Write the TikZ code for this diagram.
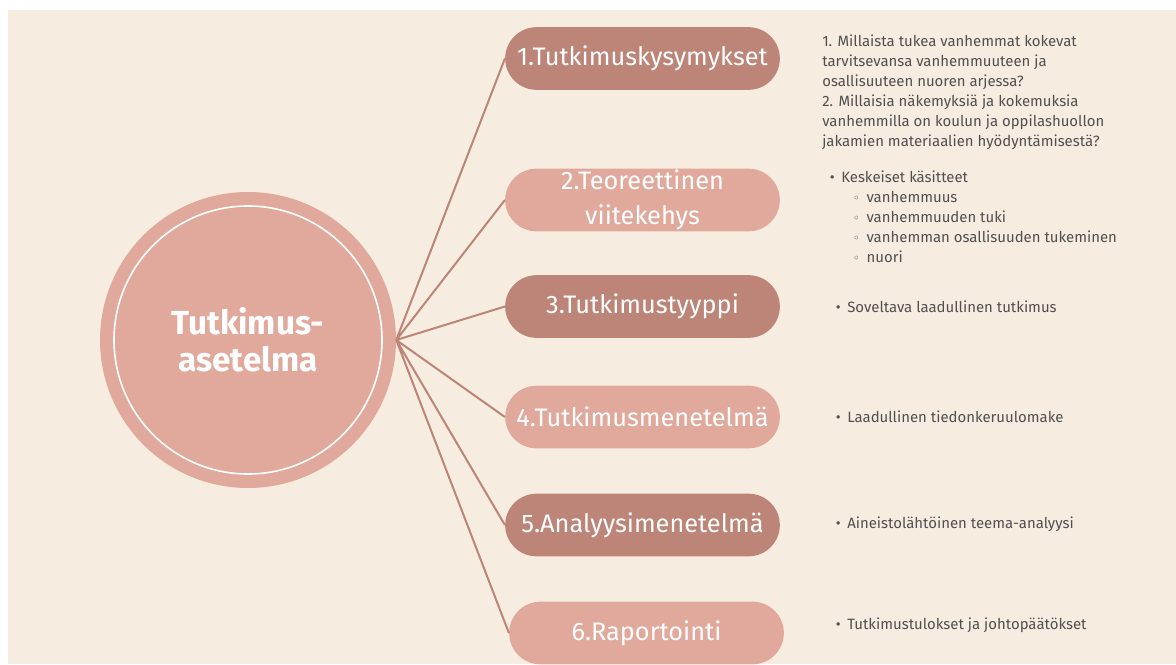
\documentclass[tikz,border=0pt]{standalone}
\usepackage{fontspec}
\setmainfont{Fira Sans}
\newfontfamily\symfont{DejaVu Sans}
\usetikzlibrary{positioning,shapes.misc}

\definecolor{kerma}{HTML}{F7ECE0}
\definecolor{rosa}{HTML}{E1A99C}
\definecolor{ruskea}{HTML}{BC8577}
\definecolor{harmaa}{HTML}{505050}

\tikzset{
  vaihe/.style={rounded rectangle, minimum width=206pt, minimum height=47pt, inner sep=0pt,
    text=white, align=center, font=\fontsize{19}{26}\selectfont},
  tumma/.style={vaihe, fill=ruskea},
  vaalea/.style={vaihe, fill=rosa},
  haara/.style={draw=ruskea, line width=1.5pt},
  selite/.style={inner sep=0pt, text=harmaa, align=left, font=\fontsize{11.2}{15}\selectfont}
}

\begin{document}
\begin{tikzpicture}[x=0.75pt,y=-0.75pt]
		\useasboundingbox (0,0) rectangle (1176,664);
		\fill[white] (0,0) rectangle (1176,664);
		\fill[kerma] (8,10) rectangle (1176,664);

		% keskus
		\node at (248,340) [circle, fill=rosa, minimum size=222pt, text=white, align=center, font=\fontsize{25}{28}\selectfont\bfseries] (K) {Tutkimus-\\asetelma};
		\node at (K) [circle, draw=white, line width=1.2pt, minimum size=201pt] (Kr) {};

		% vaiheet
		\node at (642.5,58.5) [tumma] (V1) {1.Tutkimuskysymykset};
		\node at (642.5,200) [vaalea] (V2) {2.Teoreettinen\\viitekehys};
		\node at (642.5,306.5) [tumma] (V3) {3.Tutkimustyyppi};
		\node at (642.5,417) [vaalea] (V4) {4.Tutkimusmenetelmä};
		\node at (642.5,525) [tumma] (V5) {5.Analyysimenetelmä};
		\node at (646.5,633) [vaalea] (V6) {6.Raportointi};

		\draw[haara] (K.east) -- (V1.west) (K.east) -- (V2.west) (K.east) -- (V3.west)
		             (K.east) -- (V4.west) (K.east) -- (V5.west) (K.east) -- (V6.west);

		% selitteet
		\node at (822,35) [selite, anchor=north west] (S1) {1. Millaista tukea vanhemmat kokevat\\tarvitsevansa vanhemmuuteen ja\\osallisuuteen nuoren arjessa?\\2. Millaisia näkemyksiä ja kokemuksia\\vanhemmilla on koulun ja oppilashuollon\\jakamien materiaalien hyödyntämisestä?};
		\node at (841,171) [selite, anchor=north west] (S2) {\llap{•\hspace{5pt}}Keskeiset käsitteet\\
			\hspace*{19pt}\llap{{\symfont\small ◦}\hspace{5pt}}vanhemmuus\\
			\hspace*{19pt}\llap{{\symfont\small ◦}\hspace{5pt}}vanhemmuuden tuki\\
			\hspace*{19pt}\llap{{\symfont\small ◦}\hspace{5pt}}vanhemman osallisuuden tukeminen\\
			\hspace*{19pt}\llap{{\symfont\small ◦}\hspace{5pt}}nuori};
		\node at (847,312) [selite, anchor=base west] (S3) {\llap{•\hspace{5pt}}Soveltava laadullinen tutkimus};
		\node at (847,422) [selite, anchor=base west] (S4) {\llap{•\hspace{5pt}}Laadullinen tiedonkeruulomake};
		\node at (847,528) [selite, anchor=base west] (S5) {\llap{•\hspace{5pt}}Aineistolähtöinen teema-analyysi};
		\node at (847,629) [selite, anchor=base west] (S6) {\llap{•\hspace{5pt}}Tutkimustulokset ja johtopäätökset};
\end{tikzpicture}
\end{document}
